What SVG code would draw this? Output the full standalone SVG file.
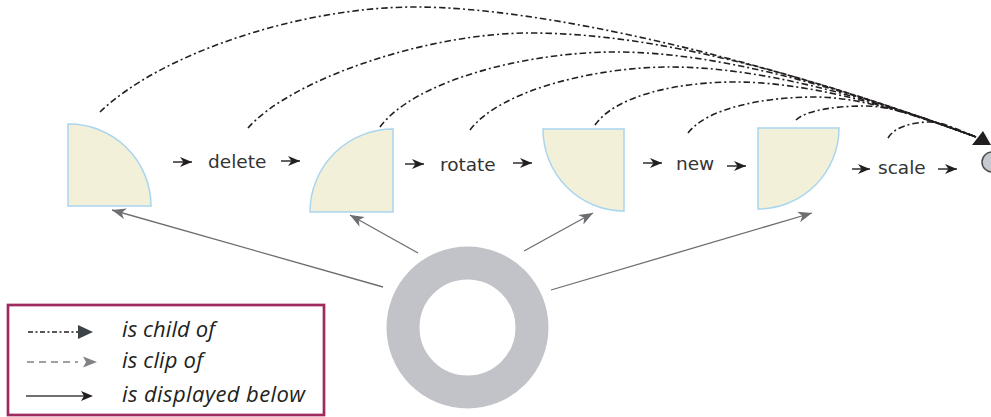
<svg xmlns="http://www.w3.org/2000/svg" width="991" height="417" viewBox="0 0 991 417">
<style>
.shape{fill:#f3f0da;stroke:#a9d5ef;stroke-width:1.5}
.lbl{font-family:"DejaVu Sans",Verdana,sans-serif;font-size:18.5px;fill:#333}
.child{fill:none;stroke:#231f20;stroke-width:1.6;stroke-dasharray:6.5 3 2 3}
.disp{fill:none;stroke:#6d6e71;stroke-width:1.3;marker-end:url(#grayhead)}
.step{fill:none;stroke:#231f20;stroke-width:1.4;marker-end:url(#blackhead)}
.leg{font-family:"Open Sans","Noto Sans",sans-serif;font-style:italic;font-size:22px;fill:#231f20}
</style>
<defs>
<marker id="grayhead" viewBox="0 0 14 11" refX="14" refY="5.5" markerWidth="14" markerHeight="11" markerUnits="userSpaceOnUse" orient="auto">
<path d="M0,0 L14,5.5 L0,11 L4,5.5 Z" fill="#6d6e71"/>
</marker>
<marker id="blackhead" viewBox="0 0 12 10" refX="12" refY="5" markerWidth="12" markerHeight="10" markerUnits="userSpaceOnUse" orient="auto">
<path d="M0,0 L12,5 L0,10 L3.5,5 Z" fill="#231f20"/>
</marker>
</defs>
<rect width="991" height="417" fill="#fff"/>

<g id="ring">
<circle cx="467.5" cy="327.5" r="64.5" fill="none" stroke="#c1c3c9" stroke-width="33"/>
</g>
<g id="target">
<circle cx="992" cy="162" r="10" fill="#c6c9d0" stroke="#4a4a4a" stroke-width="1.5"/>
</g>
<g id="shape1"><path class="shape" d="M68,124 A82,82 0 0 1 151,206 L68,206 Z"/></g>
<g id="shape2"><path class="shape" d="M393,129 L393,212 L310,212 A83,83 0 0 1 393,129 Z"/></g>
<g id="shape3"><path class="shape" d="M543,129 L624,129 L624,211 A81,82 0 0 1 543,129 Z"/></g>
<g id="shape4"><path class="shape" d="M758,128 L839,128 A81,81 0 0 1 758,209 Z"/></g>

<g id="label-delete"><text class="lbl" x="208" y="168">delete</text></g>
<g id="label-rotate"><text class="lbl" x="440" y="171">rotate</text></g>
<g id="label-new"><text class="lbl" x="676" y="170">new</text></g>
<g id="label-scale"><text class="lbl" x="878" y="174">scale</text></g>

<g id="connectors">
<path class="child" d="M100,112 C160,54 300,7 415,7 C540,7 760,57 976,137"/>
<path class="child" d="M248,128 C290,80 426,33 530,33 C655,33 802,73 976,137"/>
<path class="child" d="M380,127 C415,80 528,52 615,52 C716,52 835,85 976,137"/>
<path class="child" d="M470,130 C500,90 596,67 670,67 C756,67 857,93 976,137"/>
<path class="child" d="M595,125 C616,95 679,82 735,82 C802,82 882,102 976,137"/>
<path class="child" d="M688,133 C707,108 764,97 815,97 C860,97 913,114 976,137"/>
<path class="child" d="M796,120 C806,110 837,106 865,106 C896,106 933,121 976,137"/>
<path class="child" d="M888,138 C894,127 913,122 930,122 C943,122 958,130 976,137"/>
<polygon points="972,145 983,131 991,145" fill="#231f20"/>

<line class="disp" x1="383" y1="287" x2="112" y2="210"/>
<line class="disp" x1="418" y1="253" x2="350" y2="215"/>
<line class="disp" x1="524" y1="251" x2="593" y2="213"/>
<line class="disp" x1="551" y1="290" x2="812" y2="213"/>

<line class="step" x1="173" y1="162" x2="192" y2="162"/>
<line class="step" x1="281" y1="161" x2="300" y2="161"/>
<line class="step" x1="405" y1="164" x2="424" y2="164"/>
<line class="step" x1="513" y1="163" x2="532" y2="163"/>
<line class="step" x1="643" y1="163" x2="662" y2="163"/>
<line class="step" x1="727" y1="166" x2="746" y2="166"/>
<line class="step" x1="852" y1="169" x2="870" y2="169"/>
<line class="step" x1="938" y1="169" x2="957" y2="169"/>
</g>

<g id="legend">
<rect x="8" y="305" width="316" height="110" fill="#fff" stroke="#9e2a5e" stroke-width="2.7"/>
<line x1="28" y1="332" x2="79" y2="332" stroke="#231f20" stroke-width="1.3" stroke-dasharray="5 2.5 2 2.5"/>
<polygon points="78,325 93,332 78,339" fill="#3d4347"/>
<line x1="27" y1="362" x2="78" y2="362" stroke="#808285" stroke-width="1.3" stroke-dasharray="7 5"/>
<path d="M83,356.5 L97,362 L83,367.5 L86,362 Z" fill="#808285"/>
<line x1="26" y1="396" x2="90" y2="396" stroke="#414042" stroke-width="1.3"/>
<path d="M81,391 L93,396 L81,401 L84,396 Z" fill="#231f20"/>
<text class="leg" x="122" y="337" textLength="93" lengthAdjust="spacing">is child of</text>
<text class="leg" x="122" y="368" textLength="81" lengthAdjust="spacing">is clip of</text>
<text class="leg" x="122" y="402" textLength="183" lengthAdjust="spacing">is displayed below</text>
</g>
</svg>
